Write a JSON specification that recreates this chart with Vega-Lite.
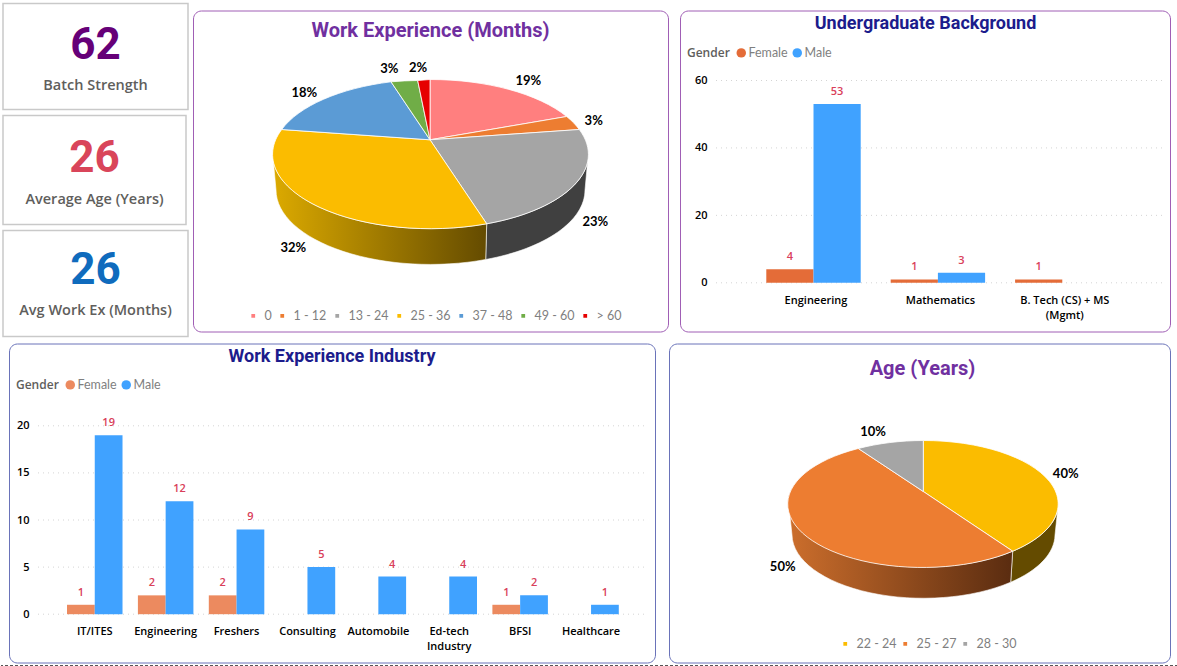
{
"$schema":"https://vega.github.io/schema/vega-lite/v6.json",
"background":"white",
"padding":{"left":0,"top":2.5,"right":0,"bottom":0},
"config":{"view":{"stroke":null},"text":{"font":"Open Sans"},"legend":{"labelFont":"Lato","titleFont":"Open Sans"},"axis":{"labelFont":"Open Sans"}},
"resolve":{"scale":{"color":"independent","shape":"independent","xOffset":"independent"}},
"spacing":1,
"vconcat":[
{"spacing":5,"resolve":{"scale":{"color":"independent","shape":"independent","xOffset":"independent"}},"vconcat":[
{"spacing":0,"resolve":{"scale":{"color":"independent","shape":"independent","xOffset":"independent"}},"hconcat":[
 {"width":1,"height":1,"data":{"values":[{}]},"mark":{"type":"text","text":"","fontSize":0},"encoding":{}},
 {"spacing":3,"resolve":{"scale":{"color":"independent","shape":"independent","xOffset":"independent"}},"hconcat":[
  {"spacing":4,"vconcat":[
   {"width":185,"height":106,"view":{"stroke":"#c9c9c9","strokeWidth":1.5,"fill":"white"},"data":{"values":[{"metric":"Batch Strength","value":62}]},
    "encoding":{"x":{"datum":0,"type":"quantitative","scale":{"domain":[-1,1],"nice":false,"zero":false},"axis":null},"y":{"datum":0,"type":"quantitative","scale":{"domain":[-1,1],"nice":false,"zero":false},"axis":null}},
    "layer":[{"mark":{"type":"text","font":"Roboto","fontWeight":700,"fontSize":44,"color":"#660078","dy":-11},"encoding":{"text":{"field":"value"}}},
             {"mark":{"type":"text","fontWeight":600,"fontSize":14.5,"color":"#605e5c","dy":29},"encoding":{"text":{"field":"metric"}}}]},
   {"width":183,"height":109,"view":{"stroke":"#c9c9c9","strokeWidth":1.5,"fill":"white"},"data":{"values":[{"metric":"Average Age (Years)","value":26}]},
    "encoding":{"x":{"datum":0,"type":"quantitative","scale":{"domain":[-1,1],"nice":false,"zero":false},"axis":null},"y":{"datum":0,"type":"quantitative","scale":{"domain":[-1,1],"nice":false,"zero":false},"axis":null}},
    "layer":[{"mark":{"type":"text","font":"Roboto","fontWeight":700,"fontSize":44,"color":"#d9455a","dy":-11},"encoding":{"text":{"field":"value"}}},
             {"mark":{"type":"text","fontWeight":600,"fontSize":14.5,"color":"#605e5c","dy":30},"encoding":{"text":{"field":"metric"}}}]},
   {"width":185,"height":106,"view":{"stroke":"#c9c9c9","strokeWidth":1.5,"fill":"white"},"data":{"values":[{"metric":"Avg Work Ex (Months)","value":26}]},
    "encoding":{"x":{"datum":0,"type":"quantitative","scale":{"domain":[-1,1],"nice":false,"zero":false},"axis":null},"y":{"datum":0,"type":"quantitative","scale":{"domain":[-1,1],"nice":false,"zero":false},"axis":null}},
    "layer":[{"mark":{"type":"text","font":"Roboto","fontWeight":700,"fontSize":44,"color":"#0f6bbd","dy":-13},"encoding":{"text":{"field":"value"}}},
             {"mark":{"type":"text","fontWeight":600,"fontSize":14.5,"color":"#605e5c","dy":27},"encoding":{"text":{"field":"metric"}}}]}
  ]},
  {"spacing":0,"resolve":{"scale":{"color":"independent","shape":"independent","xOffset":"independent"}},"vconcat":[
   {"width":1,"height":6,"data":{"values":[{}]},"mark":{"type":"text","text":"","fontSize":0},"encoding":{}},
   {"spacing":10,"resolve":{"scale":{"color":"independent","shape":"independent","xOffset":"independent"}},"hconcat":[
    {"width":475,"height":321,"view":{"stroke":"#a05eb5","cornerRadius":8,"fill":"white"},
     "data":{"values":[{"band":"0","slice":"a","share":0.19},{"band":"1 - 12","slice":"b","share":0.03},{"band":"13 - 24","slice":"c","share":0.23},{"band":"25 - 36","slice":"d","share":0.32},{"band":"37 - 48","slice":"e","share":0.18},{"band":"49 - 60","slice":"f","share":0.03},{"band":"> 60","slice":"g","share":0.02}]},
     "encoding":{"x":{"datum":0,"type":"quantitative","scale":{"domain":[-1,1],"nice":false,"zero":false},"axis":null},"y":{"datum":0,"type":"quantitative","scale":{"domain":[-1,1],"nice":false,"zero":false},"axis":null}},
     "layer":[
      {"data":{"values":[{"title":"Work Experience (Months)"}]},"mark":{"type":"text","font":"Roboto","fontWeight":700,"fontSize":20,"color":"#7030a0"},"encoding":{"y":{"value":20},"text":{"field":"title"}}},
      {"transform":[{"filter":"datum.band==='13 - 24'"}],"mark":{"type":"point","filled":true,"size":4,"opacity":1,"color":"#404040","stroke":"#ffffff","strokeWidth":0.6,"shape":"M157.8,-17.2 A157.8,74.3 0 0 1 56.2,52.8 L55.2,88.5 A154.5,74.5 0 0 0 154.5,19 Z"}},
      {"transform":[{"filter":"datum.band==='25 - 36'"}],"mark":{"type":"point","filled":true,"size":4,"opacity":1,"color":{"gradient":"linear","x1":0,"y1":0,"x2":1,"y2":0,"stops":[{"offset":0,"color":"#dcaa00"},{"offset":1,"color":"#644b00"}]},"stroke":"#ffffff","strokeWidth":0.6,"shape":"M56.2,52.8 A157.8,74.3 0 0 1 -157.8,-17.2 L-154.5,19 A154.5,74.5 0 0 0 55.2,88.5 Z"}},
      {"mark":{"type":"point","filled":true,"size":4,"opacity":1,"stroke":"#ffffff","strokeWidth":0.8},
       "encoding":{"shape":{"field":"slice","type":"nominal","legend":null,"scale":{"domain":["a","b","c","d","e","f","g"],"range":[
         "M-0.5,-31.2 L-0.5,-91.5 A157.8,74.3 0 0 1 136.2,-54.5 Z",
         "M-0.5,-31.2 L136.2,-54.5 A157.8,74.3 0 0 1 148.8,-41.5 Z",
         "M-0.5,-31.2 L148.8,-41.5 A157.8,74.3 0 0 1 56.2,52.8 Z",
         "M-0.5,-31.2 L56.2,52.8 A157.8,74.3 0 0 1 -148.8,-41.5 Z",
         "M-0.5,-31.2 L-148.8,-41.5 A157.8,74.3 0 0 1 -39.5,-89.2 Z",
         "M-0.5,-31.2 L-39.5,-89.2 A157.8,74.3 0 0 1 -12.8,-90.5 Z",
         "M-0.5,-31.2 L-12.8,-90.5 A157.8,74.3 0 0 1 -0.5,-91.5 Z"]}},
        "color":{"field":"band","type":"nominal","sort":null,"scale":{"domain":["0","1 - 12","13 - 24","25 - 36","37 - 48","49 - 60","> 60"],"range":["#ff7f7f","#ed7d31","#a5a5a5","#fbbc00","#5b9bd5","#70ad47","#e60000"]},
         "legend":{"orient":"none","legendX":54,"legendY":299,"direction":"horizontal","columns":7,"title":null,"symbolType":"square","symbolSize":28,"labelFontSize":12.5,"labelColor":"#7f7f7f","columnPadding":4,"labelOffset":5}}}},
      {"transform":[{"filter":"datum.band==='0'"}],"mark":{"type":"text","font":"Lato","fontWeight":700,"fontSize":13,"color":"#000","dx":97.8,"dy":-90.2},"encoding":{"text":{"field":"share","format":".0%"}}},
      {"transform":[{"filter":"datum.band==='1 - 12'"}],"mark":{"type":"text","font":"Lato","fontWeight":700,"fontSize":13,"color":"#000","dx":163.2,"dy":-49.8},"encoding":{"text":{"field":"share","format":".0%"}}},
      {"transform":[{"filter":"datum.band==='13 - 24'"}],"mark":{"type":"text","font":"Lato","fontWeight":700,"fontSize":13,"color":"#000","dx":164.8,"dy":51.2},"encoding":{"text":{"field":"share","format":".0%"}}},
      {"transform":[{"filter":"datum.band==='25 - 36'"}],"mark":{"type":"text","font":"Lato","fontWeight":700,"fontSize":13,"color":"#000","dx":-137.2,"dy":77.2},"encoding":{"text":{"field":"share","format":".0%"}}},
      {"transform":[{"filter":"datum.band==='37 - 48'"}],"mark":{"type":"text","font":"Lato","fontWeight":700,"fontSize":13,"color":"#000","dx":-126.2,"dy":-77.8},"encoding":{"text":{"field":"share","format":".0%"}}},
      {"transform":[{"filter":"datum.band==='49 - 60'"}],"mark":{"type":"text","font":"Lato","fontWeight":700,"fontSize":13,"color":"#000","dx":-41.2,"dy":-101.8},"encoding":{"text":{"field":"share","format":".0%"}}},
      {"transform":[{"filter":"datum.band==='> 60'"}],"mark":{"type":"text","font":"Lato","fontWeight":700,"fontSize":13,"color":"#000","dx":-12.5,"dy":-103.2},"encoding":{"text":{"field":"share","format":".0%"}}}
     ]},
    {"width":490,"height":321,"view":{"stroke":"#a05eb5","cornerRadius":8,"fill":"white"},
     "layer":[
      {"data":{"values":[{"title":"Undergraduate Background"}]},"mark":{"type":"text","font":"Roboto","fontWeight":700,"fontSize":18,"color":"#1c1c8c"},"encoding":{"x":{"value":245.5},"y":{"value":13},"text":{"field":"title"}}},
      {"data":{"values":[{"tick":0},{"tick":20},{"tick":40},{"tick":60}]},"mark":{"type":"rule","color":"#d4d4d4","strokeDash":[1,4]},
       "encoding":{"y":{"field":"tick","type":"quantitative","scale":{"domain":[0,60],"range":[272.3,70],"nice":false},"axis":{"values":[0,20,40,60],"title":null,"domain":false,"ticks":false,"grid":false,"offset":-29,"labelPadding":2,"labelFontSize":11,"labelFontWeight":600,"labelColor":"#000"}},"x":{"value":36},"x2":{"value":483}}},
      {"data":{"name":"ug","values":[{"degree":"Engineering","gender":"Female","count":4},{"degree":"Engineering","gender":"Male","count":53},{"degree":"Mathematics","gender":"Female","count":1},{"degree":"Mathematics","gender":"Male","count":3},{"degree":"B. Tech (CS) + MS (Mgmt)","gender":"Female","count":1}]},
       "mark":{"type":"bar"},
       "encoding":{"x":{"field":"degree","type":"nominal","sort":null,"scale":{"domain":["Engineering","Mathematics","B. Tech (CS) + MS (Mgmt)"],"range":[86.3,429.5],"paddingInner":0.241,"paddingOuter":0},
         "axis":{"title":null,"domain":false,"ticks":false,"labelAngle":0,"labelPadding":0,"offset":-37,"labelFontSize":11,"labelFontWeight":600,"labelColor":"#000","labelOffset":2.5,"labelLimit":0,"labelLineHeight":15,"labelExpr":"datum.value==='B. Tech (CS) + MS (Mgmt)'?['B. Tech (CS) + MS','(Mgmt)']:datum.value"}},
        "xOffset":{"field":"gender","type":"nominal","scale":{"domain":["Female","Male"]}},
        "y":{"field":"count","type":"quantitative"},
        "color":{"field":"gender","type":"nominal","scale":{"domain":["Female","Male"],"range":["#e46c38","#40a2ff"]},
         "legend":{"orient":"none","legendX":7,"legendY":36,"direction":"horizontal","title":"Gender","titleOrient":"left","titleColor":"#605e5c","titleFontSize":12,"titleFontWeight":600,"symbolType":"circle","symbolSize":90,"labelFontSize":12.5,"labelColor":"#7f7f7f","labelOffset":1,"columnPadding":3}}}},
      {"data":{"name":"ug"},"mark":{"type":"text","fontSize":11,"fontWeight":600,"color":"#d9405a","baseline":"bottom","dy":-7},
       "encoding":{"x":{"field":"degree","type":"nominal","sort":null},"xOffset":{"field":"gender","type":"nominal","scale":{"domain":["Female","Male"]}},"y":{"field":"count","type":"quantitative"},"text":{"field":"count"}}}
     ]}
   ]}
  ]}
 ]}
]},
{"spacing":0,"resolve":{"scale":{"color":"independent","shape":"independent","xOffset":"independent"}},"hconcat":[
 {"width":7,"height":1,"data":{"values":[{}]},"mark":{"type":"text","text":"","fontSize":0},"encoding":{}},
 {"spacing":12,"resolve":{"scale":{"color":"independent","shape":"independent","xOffset":"independent"}},"hconcat":[
  {"width":646,"height":319,"view":{"stroke":"#6a73b9","cornerRadius":8,"fill":"white"},
   "layer":[
    {"data":{"values":[{"title":"Work Experience Industry"}]},"mark":{"type":"text","font":"Roboto","fontWeight":700,"fontSize":18,"color":"#1c1c8c"},"encoding":{"x":{"value":323},"y":{"value":13},"text":{"field":"title"}}},
    {"data":{"values":[{"tick":0},{"tick":5},{"tick":10},{"tick":15},{"tick":20}]},"mark":{"type":"rule","color":"#d4d4d4","strokeDash":[1,4]},
     "encoding":{"y":{"field":"tick","type":"quantitative","scale":{"domain":[0,20],"range":[270.7,82.3],"nice":false},"axis":{"values":[0,5,10,15,20],"title":null,"domain":false,"ticks":false,"grid":false,"offset":-22,"labelPadding":2,"labelFontSize":11,"labelFontWeight":600,"labelColor":"#000"}},"x":{"value":29},"x2":{"value":638}}},
    {"data":{"name":"ind","values":[{"industry":"IT/ITES","gender":"Female","count":1},{"industry":"IT/ITES","gender":"Male","count":19},{"industry":"Engineering","gender":"Female","count":2},{"industry":"Engineering","gender":"Male","count":12},{"industry":"Freshers","gender":"Female","count":2},{"industry":"Freshers","gender":"Male","count":9},{"industry":"Consulting","gender":"Male","count":5},{"industry":"Automobile","gender":"Male","count":4},{"industry":"Ed-tech Industry","gender":"Male","count":4},{"industry":"BFSI","gender":"Female","count":1},{"industry":"BFSI","gender":"Male","count":2},{"industry":"Healthcare","gender":"Male","count":1}]},
     "mark":{"type":"bar"},
     "encoding":{"x":{"field":"industry","type":"nominal","sort":null,"scale":{"domain":["IT/ITES","Engineering","Freshers","Consulting","Automobile","Ed-tech Industry","BFSI","Healthcare"],"range":[58,609.8],"paddingInner":0.217,"paddingOuter":0},
       "axis":{"title":null,"domain":false,"ticks":false,"labelAngle":0,"labelPadding":0,"offset":-37,"labelFontSize":11,"labelFontWeight":600,"labelColor":"#000","labelLimit":0,"labelLineHeight":15,"labelExpr":"datum.value==='Ed-tech Industry'?['Ed-tech','Industry']:datum.value"}},
      "xOffset":{"field":"gender","type":"nominal","scale":{"domain":["Female","Male"]}},
      "y":{"field":"count","type":"quantitative"},
      "color":{"field":"gender","type":"nominal","scale":{"domain":["Female","Male"],"range":["#ec8a5f","#40a2ff"]},
       "legend":{"orient":"none","legendX":7,"legendY":35,"direction":"horizontal","title":"Gender","titleOrient":"left","titleColor":"#605e5c","titleFontSize":12,"titleFontWeight":600,"symbolType":"circle","symbolSize":90,"labelFontSize":12.5,"labelColor":"#7f7f7f","labelOffset":1,"columnPadding":3}}}},
    {"data":{"name":"ind"},"mark":{"type":"text","fontSize":11,"fontWeight":600,"color":"#d9405a","baseline":"bottom","dy":-7},
     "encoding":{"x":{"field":"industry","type":"nominal","sort":null},"xOffset":{"field":"gender","type":"nominal","scale":{"domain":["Female","Male"]}},"y":{"field":"count","type":"quantitative"},"text":{"field":"count"}}}
   ]},
  {"width":501,"height":319,"view":{"stroke":"#6a73b9","cornerRadius":8,"fill":"white"},
   "data":{"values":[{"band":"22 - 24","slice":"a","share":0.40},{"band":"25 - 27","slice":"b","share":0.50},{"band":"28 - 30","slice":"c","share":0.10}]},
   "encoding":{"x":{"datum":0,"type":"quantitative","scale":{"domain":[-1,1],"nice":false,"zero":false},"axis":null},"y":{"datum":0,"type":"quantitative","scale":{"domain":[-1,1],"nice":false,"zero":false},"axis":null}},
   "layer":[
    {"data":{"values":[{"title":"Age (Years)"}]},"mark":{"type":"text","font":"Roboto","fontWeight":700,"fontSize":20,"color":"#7030a0","dx":3},"encoding":{"y":{"value":25},"text":{"field":"title"}}},
    {"transform":[{"filter":"datum.band==='22 - 24'"}],"mark":{"type":"point","filled":true,"size":4,"opacity":1,"color":"#644b00","stroke":"#ffffff","strokeWidth":0.6,"shape":"M138.8,0.8 A134.8,63.3 0 0 1 93.2,48.2 L91.2,79.2 A131.5,63.8 0 0 0 135.5,32 Z"}},
    {"transform":[{"filter":"datum.band==='25 - 27'"}],"mark":{"type":"point","filled":true,"size":4,"opacity":1,"color":{"gradient":"linear","x1":0,"y1":0,"x2":1,"y2":0,"stops":[{"offset":0,"color":"#cc6e2c"},{"offset":1,"color":"#5a2c10"}]},"stroke":"#ffffff","strokeWidth":0.6,"shape":"M93.2,48.2 A134.8,63.3 0 0 1 -130.8,0.8 L-127.5,32 A131.5,63.8 0 0 0 91.2,79.2 Z"}},
    {"mark":{"type":"point","filled":true,"size":4,"opacity":1,"stroke":"#ffffff","strokeWidth":0.8},
     "encoding":{"shape":{"field":"slice","type":"nominal","legend":null,"scale":{"domain":["a","b","c"],"range":[
       "M3.8,-11.5 L3.8,-62.5 A134.8,63.3 0 0 1 93.2,48.2 Z",
       "M3.8,-11.5 L93.2,48.2 A134.8,63.3 0 1 1 -61.2,-54.5 Z",
       "M3.8,-11.5 L-61.2,-54.5 A134.8,63.3 0 0 1 3.8,-62.5 Z"]}},
      "color":{"field":"band","type":"nominal","sort":null,"scale":{"domain":["22 - 24","25 - 27","28 - 30"],"range":["#fbbc00","#ed7d31","#a5a5a5"]},
       "legend":{"orient":"none","legendX":170,"legendY":294,"direction":"horizontal","columns":3,"title":null,"symbolType":"square","symbolSize":28,"labelFontSize":12.5,"labelColor":"#7f7f7f","columnPadding":2,"labelOffset":5}}}},
    {"transform":[{"filter":"datum.band==='22 - 24'"}],"mark":{"type":"text","font":"Lato","fontWeight":700,"fontSize":13,"color":"#000","dx":146.2,"dy":-29.2},"encoding":{"text":{"field":"share","format":".0%"}}},
    {"transform":[{"filter":"datum.band==='25 - 27'"}],"mark":{"type":"text","font":"Lato","fontWeight":700,"fontSize":13,"color":"#000","dx":-136.8,"dy":63.5},"encoding":{"text":{"field":"share","format":".0%"}}},
    {"transform":[{"filter":"datum.band==='28 - 30'"}],"mark":{"type":"text","font":"Lato","fontWeight":700,"fontSize":13,"color":"#000","dx":-46.5,"dy":-71.5},"encoding":{"text":{"field":"share","format":".0%"}}}
   ]}
 ]}
]}
]},
{"width":1177,"height":1,"data":{"values":[{}]},"mark":{"type":"rule","color":"#555555","strokeDash":[3,2]},"encoding":{"y":{"value":0}}}
]}
